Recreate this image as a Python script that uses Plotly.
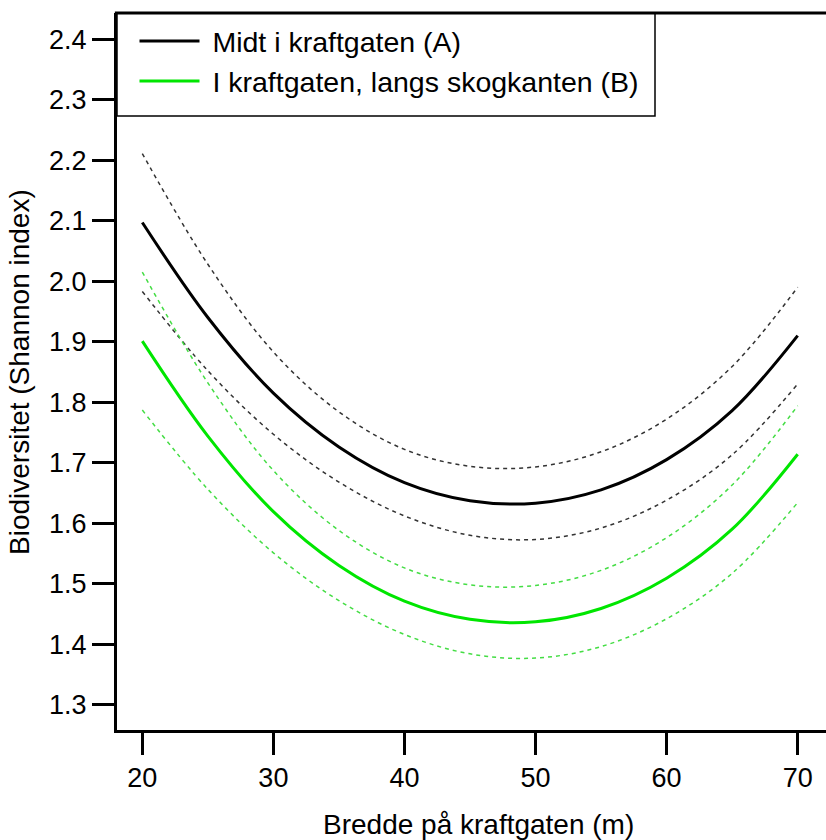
import plotly.graph_objects as go

# ---- data ----
width_m = [20, 25, 30, 35, 40, 45, 50, 55, 60, 65, 70]

a_fit   = [2.097, 1.940, 1.815, 1.726, 1.667, 1.637, 1.633, 1.655, 1.705, 1.786, 1.910]
a_upper = [2.211, 2.028, 1.883, 1.784, 1.722, 1.694, 1.693, 1.718, 1.772, 1.859, 1.990]
a_lower = [1.983, 1.852, 1.747, 1.668, 1.612, 1.580, 1.573, 1.592, 1.638, 1.713, 1.830]

b_fit   = [1.901, 1.744, 1.619, 1.530, 1.471, 1.441, 1.437, 1.459, 1.509, 1.590, 1.714]
b_upper = [2.015, 1.832, 1.687, 1.588, 1.526, 1.498, 1.497, 1.522, 1.576, 1.663, 1.794]
b_lower = [1.787, 1.656, 1.551, 1.472, 1.416, 1.384, 1.377, 1.396, 1.442, 1.517, 1.634]

x_ticks = [20, 30, 40, 50, 60, 70]
y_ticks = [1.3, 1.4, 1.5, 1.6, 1.7, 1.8, 1.9, 2.0, 2.1, 2.2, 2.3, 2.4]
y_ticktext = ["1.3", "1.4", "1.5", "1.6", "1.7", "1.8", "1.9", "2.0", "2.1", "2.2", "2.3", "2.4"]

name_a = "Midt i kraftgaten (A)"
name_b = "I kraftgaten, langs skogkanten (B)"
x_title = "Bredde på kraftgaten (m)"
y_title = "Biodiversitet (Shannon index)"

# ---- styling ----
BLACK = "#000000"
GREEN = "#00e600"
DASH_BLACK = "#333333"
DASH_GREEN = "#44dd44"
FONT = "Liberation Sans, Arial, sans-serif"
FS_TICK = 27
FS_TITLE = 28
FS_LEG = 28.5

W, H = 826, 840
ML, MR, MT, MB = 117, 0, 13, 110
PW = W - ML - MR
PH = H - MT - MB

fig = go.Figure()

def add_line(y, color, w, dash, name=None, show=False):
    fig.add_trace(go.Scatter(
        x=width_m, y=y, mode="lines", name=name, showlegend=show,
        line=dict(color=color, width=w, dash=dash, shape="spline", smoothing=1.0),
        hoverinfo="skip"))

add_line(a_upper, DASH_BLACK, 1.5, "4px,4px")
add_line(a_lower, DASH_BLACK, 1.5, "4px,4px")
add_line(b_upper, DASH_GREEN, 1.5, "4px,4px")
add_line(b_lower, DASH_GREEN, 1.5, "4px,4px")
add_line(a_fit, BLACK, 3, "solid", "\u00a0" + name_a, True)
add_line(b_fit, GREEN, 3, "solid", "\u00a0" + name_b, True)

def px_to_paper_x(px):
    return (px - ML) / PW

def px_to_paper_y(py):
    return (H - MB - py) / PH

# legend frame around the built-in legend
fig.add_shape(type="rect", xref="paper", yref="paper",
              x0=0, x1=px_to_paper_x(655), y0=px_to_paper_y(116), y1=1,
              line=dict(color=BLACK, width=1.5), fillcolor="white", layer="below")
# top frame line
fig.add_shape(type="line", xref="paper", yref="paper",
              x0=-0.003, x1=1, y0=1, y1=1, line=dict(color=BLACK, width=3))

fig.add_annotation(text=x_title, xref="paper", yref="paper",
                   x=px_to_paper_x(478), y=px_to_paper_y(824),
                   xanchor="center", yanchor="middle", showarrow=False,
                   font=dict(family=FONT, size=FS_TITLE, color=BLACK))
fig.add_annotation(text=y_title, xref="paper", yref="paper",
                   x=px_to_paper_x(20), y=px_to_paper_y(372),
                   xanchor="center", yanchor="middle", showarrow=False, textangle=-90,
                   font=dict(family=FONT, size=FS_TITLE, color=BLACK))

fig.update_layout(
    width=W, height=H,
    margin=dict(l=ML, r=MR, t=MT, b=MB, pad=0),
    paper_bgcolor="white", plot_bgcolor="white",
    font=dict(family=FONT, size=FS_TICK, color=BLACK),
    showlegend=True,
    legend=dict(x=px_to_paper_x(134.5), y=px_to_paper_y(16), xanchor="left", yanchor="top",
                bgcolor="rgba(0,0,0,0)", borderwidth=0,
                font=dict(family=FONT, size=FS_LEG, color=BLACK),
                itemwidth=60, tracegroupgap=0),
)
fig.update_xaxes(range=[18.07, 72.16], tickvals=x_ticks, ticks="outside",
                 ticklen=22, tickwidth=3, tickcolor=BLACK,
                 showline=True, linewidth=3, linecolor=BLACK, mirror=False,
                 showgrid=False, zeroline=False,
                 tickfont=dict(family=FONT, size=FS_TICK, color=BLACK))
fig.update_yaxes(range=[1.2581, 2.4433], tickvals=y_ticks, ticktext=y_ticktext,
                 ticks="outside", ticklen=22, tickwidth=3, tickcolor=BLACK,
                 showline=True, linewidth=3, linecolor=BLACK, mirror=False,
                 showgrid=False, zeroline=False,
                 tickfont=dict(family=FONT, size=FS_TICK, color=BLACK))

fig.write_html("out.html")
